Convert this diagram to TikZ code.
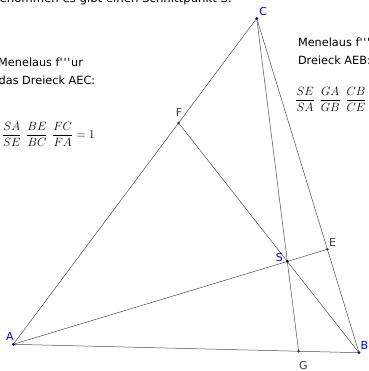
\documentclass[tikz,border=0pt]{standalone}
\usepackage{fontspec}
\newfontfamily\gsans{DejaVu Sans}
\definecolor{ptblue}{RGB}{0,0,160}
\definecolor{labblue}{RGB}{0,0,255}
\definecolor{depgray}{RGB}{60,60,60}
\newcommand{\apos}{\textquotesingle\kern0.7pt}
\begin{document}
\begin{tikzpicture}[x=1pt,y=-1pt,
  seg/.style={draw=black!70, line width=0.5pt},
  freept/.style={circle, fill=ptblue, inner sep=0pt, minimum size=3pt},
  deppt/.style={circle, fill=depgray, inner sep=0pt, minimum size=3pt},
  freelab/.style={text=labblue, font=\gsans\fontsize{11}{13}\selectfont, inner sep=0pt},
  deplab/.style={text=depgray, font=\gsans\fontsize{11}{13}\selectfont, inner sep=0pt},
  txt/.style={font=\gsans\fontsize{11.3}{13}\selectfont, inner sep=0pt, anchor=base west},
  frm/.style={font=\fontsize{13}{15}\selectfont, inner sep=0pt, anchor=base west}]
\useasboundingbox (0,0) rectangle (368,371);
% free points
\coordinate (A) at (13.3,344.3);
\coordinate (B) at (359,352.7);
\coordinate (C) at (256.7,18.3);
\coordinate (S) at (287.3,261.4);
% dependent points
\coordinate (E) at (intersection of A--S and C--B);
\coordinate (F) at (intersection of B--S and A--C);
\coordinate (G) at (intersection of C--S and A--B);
% segments
\draw[seg] (A) -- (C);
\draw[seg] (C) -- (B);
\draw[seg] (A) -- (B);
\draw[seg] (A) -- (E);
\draw[seg] (F) -- (B);
\draw[seg] (C) -- (G);
% points
\node[freept] (pA) at (A) {};
\node[freept] (pB) at (B) {};
\node[freept] (pC) at (C) {};
\node[freept] (pS) at (S) {};
\node[deppt] (pE) at (E) {};
\node[deppt] (pF) at (F) {};
\node[deppt] (pG) at (G) {};
% labels
\node[freelab] (lA) at (10,336) {A};
\node[freelab] (lB) at (364.5,345) {B};
\node[freelab] (lC) at (263.3,11.7) {C};
\node[freelab] (lS) at (279.3,257.7) {S};
\node[deplab] (lE) at (332.7,242) {E};
\node[deplab] (lF) at (179,112.3) {F};
\node[deplab] (lG) at (303.3,365.7) {G};
% texts
\node[txt, anchor=base east, font=\gsans\fontsize{11.7}{13}\selectfont] (top) at (232,2.5) {Angenommen es gibt einen Schnittpunkt S.};
\node[txt] (l1) at (-2,66.5) {Menelaus f\apos\apos\apos ur};
\node[txt, anchor=base east] (l2) at (95.5,85) {das Dreieck AEC:};
\node[txt] (r1) at (297.8,47) {Menelaus f\apos\apos\apos ur};
\node[txt] (r2) at (297.8,65) {Dreieck AEB:};
\node[frm] (fl) at (1.7,138.2) {$\displaystyle \frac{SA}{SE}\mkern7mu\frac{BE}{BC}\mkern7mu\frac{FC}{FA}=1$};
\node[frm] (fr) at (295,103.2) {$\displaystyle \frac{SE}{SA}\mkern7mu\frac{GA}{GB}\mkern7mu\frac{CB}{CE}=1$};
\end{tikzpicture}
\end{document}
